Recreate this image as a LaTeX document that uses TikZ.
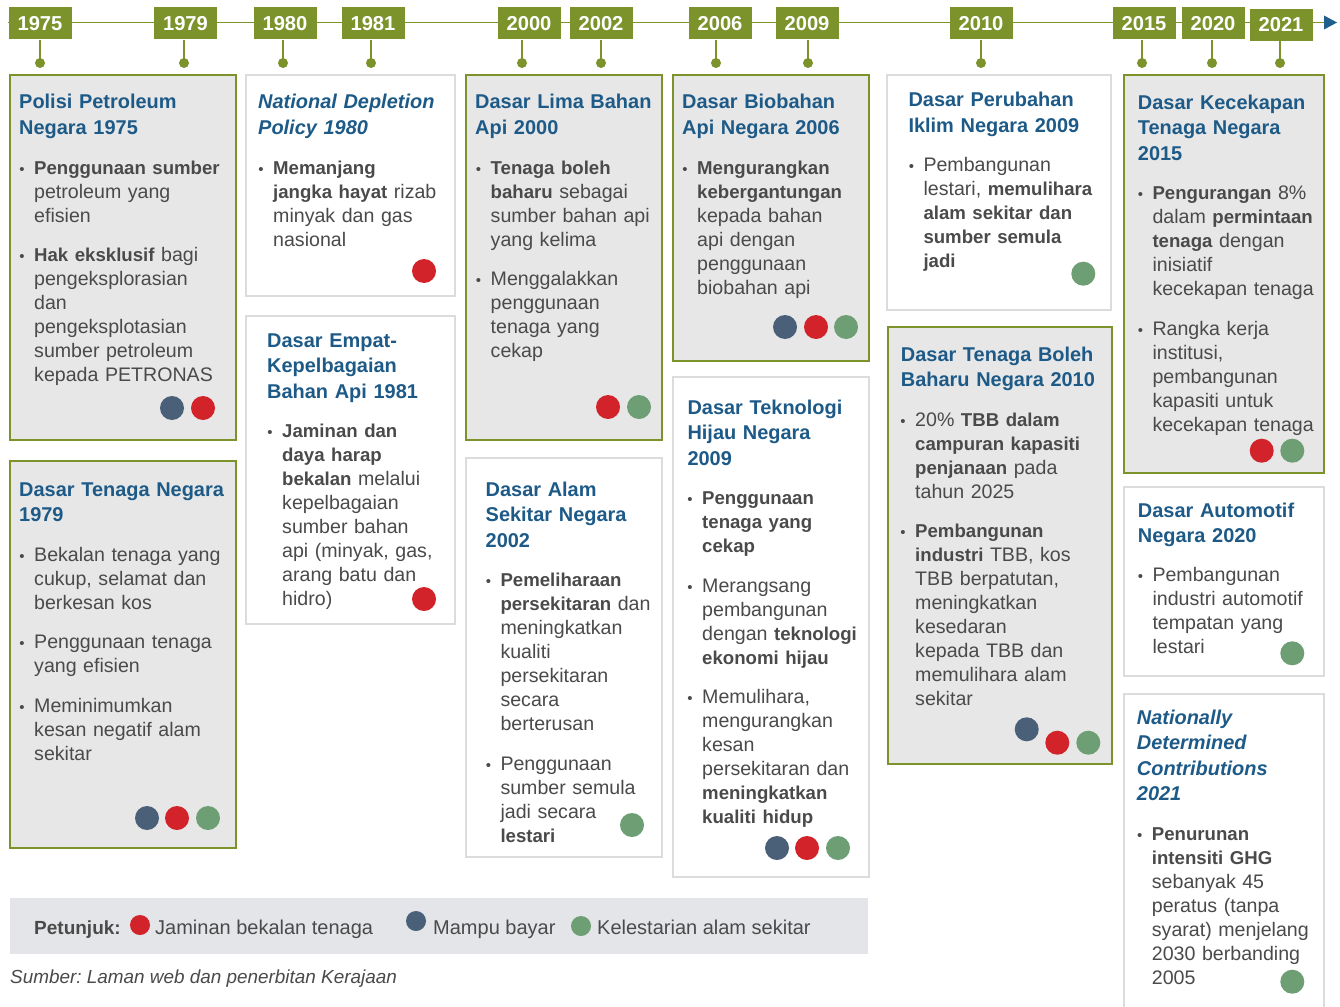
\documentclass[tikz,border=0pt]{standalone}
\usepackage{fontspec}
\setmainfont{Liberation Sans}[BoldFeatures={Scale=0.95},BoldItalicFeatures={Scale=0.95}]
\definecolor{yolive}{HTML}{7C922B}
\definecolor{tblue}{HTML}{1D5A87}
\definecolor{bgrey}{HTML}{4A4A4A}
\definecolor{cardfill}{HTML}{E7E7E7}
\definecolor{cardline}{HTML}{DCDCDC}
\definecolor{cred}{HTML}{D2232A}
\definecolor{cslate}{HTML}{4A6079}
\definecolor{cgreen}{HTML}{6D9E74}
\definecolor{legfill}{HTML}{E4E5E8}
\definecolor{arrblue}{HTML}{1F5F8B}
\newcommand\bul{\leavevmode\llap{{\fontsize{15}{15}\selectfont\textbullet}\hspace{9.5pt}}}
\begin{document}
\frenchspacing
\begin{tikzpicture}[x=1pt,y=-1pt,
 yearbox/.style={fill=yolive, text=white, font=\fontsize{21.2}{24}\selectfont\bfseries, minimum width=63pt, minimum height=32pt, inner sep=0pt},
 tdot/.style={circle, fill=yolive, minimum size=10pt, inner sep=0pt},
 stem/.style={draw=yolive, line width=2pt},
 tline/.style={draw=yolive, line width=1.5pt},
 cardg/.style={fill=cardfill, draw=yolive, line width=1.5pt},
 cardw/.style={fill=white, draw=cardline, line width=1.8pt},
 ttl/.style={anchor=base west, inner sep=0pt, text width=235pt, align=left, text=tblue, font=\fontsize{21}{25.5}\selectfont\bfseries},
 body/.style={anchor=base west, inner sep=0pt, text width=230pt, align=left, text=bgrey, font=\fontsize{19.6}{24}\selectfont},
 pdot/.style={circle, minimum size=24pt, inner sep=0pt},
 ldot/.style={circle, minimum size=20pt, inner sep=0pt},
 legtext/.style={anchor=base west, inner sep=0pt, text=bgrey, font=\fontsize{20}{24}\selectfont},
]
\useasboundingbox (0,0) rectangle (1340,1006);
\fill[white] (0,0) rectangle (1340,1006);

% ---------- timeline ----------
\coordinate (tlstart) at (8,22.5);
\coordinate (tlend) at (1324,22.5);
\draw[tline] (tlstart) -- (tlend);
\fill[arrblue] (tlend) ++(0,-7) -- ++(13,7) -- ++(-13,7) -- cycle;

\foreach \yr/\bx/\dx/\by in {1975/40/40/23.5, 1979/185.5/184/23.5, 1980/285/283/23.5, 1981/373/371/23.5, 2000/529/522/23.5, 2002/601/601/23.5, 2006/720/716/23.5, 2009/807/808/23.5, 2010/981/981/23.5, 2015/1144/1142/23.5, 2020/1213/1212/23.5, 2021/1281/1280/25}{
  \node[yearbox] (y\yr) at (\bx,\by) {\yr};
  \node[tdot] (d\yr) at (\dx,63) {};
  \draw[stem] (d\yr.center) -- (d\yr.center |- y\yr.south);
}

% ---------- card 1 ----------
\draw[cardg] (10,75) rectangle (236,440);
\node[ttl] (c1t) at (19,109) {Polisi Petroleum\\Negara 1975};
\node[body] (c1a) at (34,174) {\bul\textbf{Penggunaan sumber}\\petroleum yang\\efisien};
\node[body] (c1b) at (34,261) {\bul\textbf{Hak eksklusif} bagi\\pengeksplorasian\\dan\\pengeksplotasian\\sumber petroleum\\kepada PETRONAS};
\node[pdot, fill=cslate] (c1d1) at (172,408) {};
\node[pdot, fill=cred] (c1d2) at (203,408) {};

% ---------- card 2 ----------
\draw[cardw] (246,75) rectangle (455,296);
\node[ttl] (c2t) at (258,109) {\itshape National Depletion\\\itshape Policy 1980};
\node[body] (c2a) at (273,174) {\bul\textbf{Memanjang}\\\textbf{jangka hayat} rizab\\minyak dan gas\\nasional};
\node[pdot, fill=cred] (c2d1) at (424,271) {};

% ---------- card 3 ----------
\draw[cardw] (246,316) rectangle (455,624);
\node[ttl] (c3t) at (267,347) {Dasar Empat-\\Kepelbagaian\\Bahan Api 1981};
\node[body] (c3a) at (282,437.5) {\bul\textbf{Jaminan dan}\\\textbf{daya harap}\\\textbf{bekalan} melalui\\kepelbagaian\\sumber bahan\\api (minyak, gas,\\arang batu dan\\hidro)};
\node[pdot, fill=cred] (c3d1) at (424,599) {};

% ---------- card 4 ----------
\draw[cardg] (10,461) rectangle (236,848);
\node[ttl] (c4t) at (19,496) {Dasar Tenaga Negara\\1979};
\node[body] (c4a) at (34,561) {\bul Bekalan tenaga yang\\cukup, selamat dan\\berkesan kos};
\node[body] (c4b) at (34,648) {\bul Penggunaan tenaga\\yang efisien};
\node[body] (c4c) at (34,712) {\bul Meminimumkan\\kesan negatif alam\\sekitar};
\node[pdot, fill=cslate] (c4d1) at (147,818) {};
\node[pdot, fill=cred] (c4d2) at (177,818) {};
\node[pdot, fill=cgreen] (c4d3) at (208,818) {};

% ---------- card 5 ----------
\draw[cardg] (466,75) rectangle (662,440);
\node[ttl] (c5t) at (475,109) {Dasar Lima Bahan\\Api 2000};
\node[body] (c5a) at (490.5,174) {\bul\textbf{Tenaga boleh}\\\textbf{baharu} sebagai\\sumber bahan api\\yang kelima};
\node[body] (c5b) at (490.5,285) {\bul Menggalakkan\\penggunaan\\tenaga yang\\cekap};
\node[pdot, fill=cred] (c5d1) at (608,407) {};
\node[pdot, fill=cgreen] (c5d2) at (639,407) {};

% ---------- card 6 ----------
\draw[cardw] (466,458) rectangle (662,857);
\node[ttl] (c6t) at (485.5,496) {Dasar Alam\\Sekitar Negara\\2002};
\node[body] (c6a) at (500.3,586) {\bul\textbf{Pemeliharaan}\\\textbf{persekitaran} dan\\meningkatkan\\kualiti\\persekitaran\\secara\\berterusan};
\node[body] (c6b) at (500.3,770) {\bul Penggunaan\\sumber semula\\jadi secara\\\textbf{lestari}};
\node[pdot, fill=cgreen] (c6d1) at (632,825) {};

% ---------- card 7 ----------
\draw[cardg] (673,75) rectangle (869,361);
\node[ttl] (c7t) at (682,109) {Dasar Biobahan\\Api Negara 2006};
\node[body] (c7a) at (697,174) {\bul\textbf{Mengurangkan}\\\textbf{kebergantungan}\\kepada bahan\\api dengan\\penggunaan\\biobahan api};
\node[pdot, fill=cslate] (c7d1) at (785,327) {};
\node[pdot, fill=cred] (c7d2) at (816,327) {};
\node[pdot, fill=cgreen] (c7d3) at (846,327) {};

% ---------- card 8 ----------
\draw[cardw] (673,377) rectangle (869,877);
\node[ttl] (c8t) at (687.3,414) {Dasar Teknologi\\Hijau Negara\\2009};
\node[body] (c8a) at (702,504) {\bul\textbf{Penggunaan}\\\textbf{tenaga yang}\\\textbf{cekap}};
\node[body] (c8b) at (702,592) {\bul Merangsang\\pembangunan\\dengan \textbf{teknologi}\\\textbf{ekonomi hijau}};
\node[body] (c8c) at (702,703) {\bul Memulihara,\\mengurangkan\\kesan\\persekitaran dan\\\textbf{meningkatkan}\\\textbf{kualiti hidup}};
\node[pdot, fill=cslate] (c8d1) at (777,848) {};
\node[pdot, fill=cred] (c8d2) at (807,848) {};
\node[pdot, fill=cgreen] (c8d3) at (838,848) {};

% ---------- card 9 ----------
\draw[cardw] (887,75) rectangle (1111,310);
\node[ttl] (c9t) at (908.3,106.7) {Dasar Perubahan\\Iklim Negara 2009};
\node[body] (c9a) at (923.3,171) {\bul Pembangunan\\lestari, \textbf{memulihara}\\\textbf{alam sekitar dan}\\\textbf{sumber semula}\\\textbf{jadi}};
\node[pdot, fill=cgreen] (c9d1) at (1083.3,273.7) {};

% ---------- card 10 ----------
\draw[cardg] (888,327) rectangle (1112,764);
\node[ttl] (c10t) at (900.7,361) {Dasar Tenaga Boleh\\Baharu Negara 2010};
\node[body] (c10a) at (915,426) {\bul 20\% \textbf{TBB dalam}\\\textbf{campuran kapasiti}\\\textbf{penjanaan} pada\\tahun 2025};
\node[body] (c10b) at (915,537) {\bul\textbf{Pembangunan}\\\textbf{industri} TBB, kos\\TBB berpatutan,\\meningkatkan\\kesedaran\\kepada TBB dan\\memulihara alam\\sekitar};
\node[pdot, fill=cslate] (c10d1) at (1026.7,729.3) {};
\node[pdot, fill=cred] (c10d2) at (1057.3,742.7) {};
\node[pdot, fill=cgreen] (c10d3) at (1088.3,742.7) {};

% ---------- card 11 ----------
\draw[cardg] (1124,75) rectangle (1324,473);
\node[ttl] (c11t) at (1137.7,109.3) {Dasar Kecekapan\\Tenaga Negara\\2015};
\node[body] (c11a) at (1152.3,199.3) {\bul\textbf{Pengurangan} 8\%\\dalam \textbf{permintaan}\\\textbf{tenaga} dengan\\inisiatif\\kecekapan tenaga};
\node[body] (c11b) at (1152.3,335) {\bul Rangka kerja\\institusi,\\pembangunan\\kapasiti untuk\\kecekapan tenaga};
\node[pdot, fill=cred] (c11d1) at (1261.7,450.7) {};
\node[pdot, fill=cgreen] (c11d2) at (1292.3,450.7) {};

% ---------- card 12 ----------
\draw[cardw] (1124,487) rectangle (1324,676);
\node[ttl] (c12t) at (1137.7,517.3) {Dasar Automotif\\Negara 2020};
\node[body] (c12a) at (1152.3,581) {\bul Pembangunan\\industri automotif\\tempatan yang\\lestari};
\node[pdot, fill=cgreen] (c12d1) at (1292.3,653.3) {};

% ---------- card 13 ----------
\draw[cardw] (1124,694) rectangle (1324,1016);
\node[ttl] (c13t) at (1136.7,724.3) {\itshape Nationally\\\itshape Determined\\\itshape Contributions\\\itshape 2021};
\node[body] (c13a) at (1151.7,840) {\bul\textbf{Penurunan}\\\textbf{intensiti GHG}\\sebanyak 45\\peratus (tanpa\\syarat) menjelang\\2030 berbanding\\2005};
\node[pdot, fill=cgreen] (c13d1) at (1292.3,981.7) {};

% ---------- legend ----------
\fill[legfill] (10,898) rectangle (868,954);
\node[legtext] (lg0) at (34,934) {\textbf{Petunjuk:}};
\node[ldot, fill=cred] (lgd1) at (140,925) {};
\node[legtext] (lg1) at (155,934) {Jaminan bekalan tenaga};
\node[ldot, fill=cslate] (lgd2) at (416,921) {};
\node[legtext] (lg2) at (433,934) {Mampu bayar};
\node[ldot, fill=cgreen] (lgd3) at (581,926) {};
\node[legtext] (lg3) at (597,934) {Kelestarian alam sekitar};

% ---------- source ----------
\node[anchor=base west, inner sep=0pt, text=bgrey, font=\fontsize{18.9}{22}\selectfont\itshape] (src) at (10,983) {Sumber: Laman web dan penerbitan Kerajaan};
\end{tikzpicture}
\end{document}
